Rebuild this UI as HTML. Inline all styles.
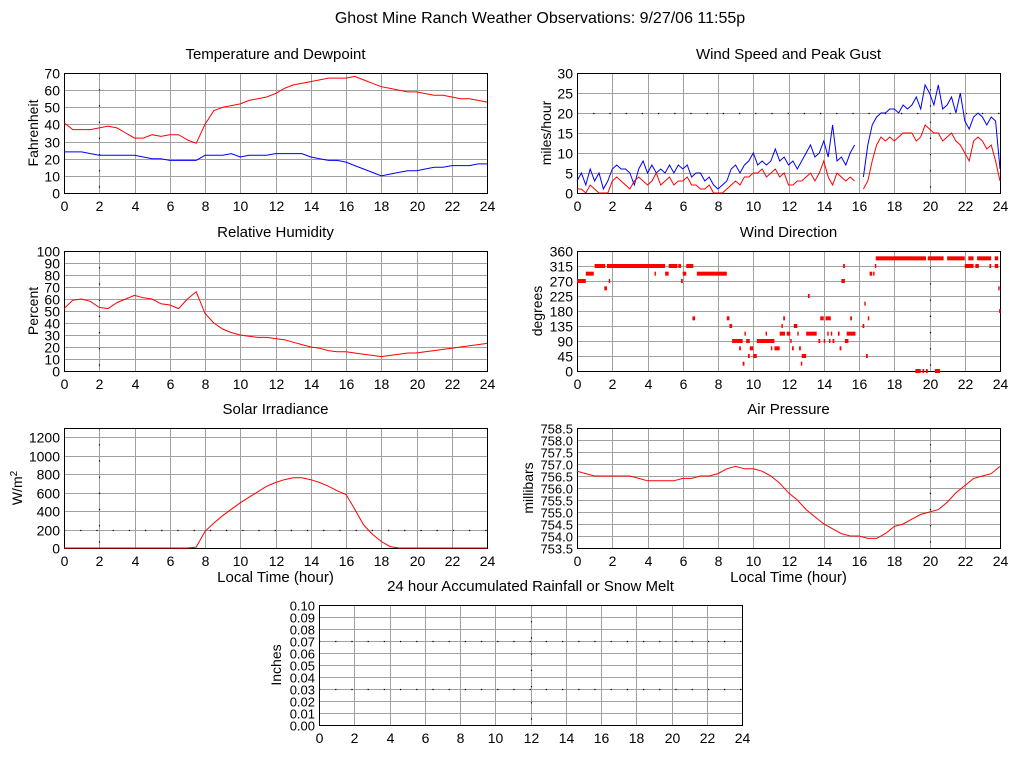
<!DOCTYPE html>
<html><head><meta charset="utf-8"><style>
body{margin:0;background:#fff;}
svg{display:block;font-family:"Liberation Sans",sans-serif;}
</style></head><body>
<svg id="c" width="1024" height="768" viewBox="0 0 1024 768" xmlns="http://www.w3.org/2000/svg">
<text x="540" y="23" font-size="16" text-anchor="middle">Ghost Mine Ranch Weather Observations: 9/27/06 11:55p</text>
</svg>
<script>
const hoursLabels = [0,2,4,6,8,10,12,14,16,18,20,22,24];
const tempF = [41,37,37,37,38,39,38,35,32,32,34,33,34,34,31,29,40,48,50,51,52,54,55,56,58,61,63,64,65,66,67,67,67,68,66,64,62,61,60,59,59,58,57,57,56,55,55,54,53];
const dewF = [24,24,24,23,22,22,22,22,22,21,20,20,19,19,19,19,22,22,22,23,21,22,22,22,23,23,23,23,21,20,19,19,18,16,14,12,10,11,12,13,13,14,15,15,16,16,16,17,17];
const humidity = [52,59,60,58,53,52,57,60,63,61,60,56,55,52,60,66,48,40,35,32,30,29,28,28,27,26,24,22,20,19,17,16,16,15,14,13,12,13,14,15,15,16,17,18,19,20,21,22,23];
const solar = [0,0,0,0,0,0,0,0,0,0,0,0,0,0,0,10,180,270,350,420,490,550,610,670,710,740,760,760,740,710,670,620,580,420,250,150,70,15,0,0,0,0,0,0,0,0,0,0,0];
const pressure = [756.7,756.6,756.5,756.5,756.5,756.5,756.5,756.4,756.3,756.3,756.3,756.3,756.4,756.4,756.5,756.5,756.6,756.8,756.9,756.8,756.8,756.7,756.5,756.2,755.8,755.5,755.1,754.8,754.5,754.3,754.1,754.0,754.0,753.9,753.9,754.1,754.4,754.5,754.7,754.9,755.0,755.1,755.4,755.8,756.1,756.4,756.5,756.6,756.9];
const gust = [3,5,2,6, 3,5,1,3, 6,7,6,6, 5,2,6,8, 5,7,5,6, 5,7,5,7, 6,7,4,5, 5,3,4,2, 1,2,3,6, 7,5,7,8, 10,7,8,7, 8,11,8,9, 7,8,6,8, 10,12,9,10, 13,9,17,8, 9,7,10,12, null,4,12,17, 19,20,20,21, 21,20,22,21, 22,24,21,27, 25,22,27,21, 22,24,20,25, 18,16,19,20, 19,17,19,18, 6];
const speed = [1,1,0,2, 1,0,0,0, 3,4,3,2, 1,3,4,3, 2,3,5,2, 3,4,2,3, 3,4,2,2, 1,1,2,0, 0,0,1,2, 3,2,4,4, 5,5,6,4, 5,6,4,5, 2,2,3,3, 4,5,3,5, 8,4,2,5, 4,3,4,3, null,1,3,8, 12,14,13,14, 13,14,15,15, 15,13,14,17, 16,15,15,13, 14,15,13,12, 10,8,13,14, 13,11,12,8, 3];
const dirStart = [0,0.5,1,1.55,1.7,1.8,4.4,5,5.2,5.75,5.9,6,6.2,6.55,6.8,8.5,8.65,8.8,9.2,9.4,9.5,9.6,9.8,9.7,10,10.2,10.7,11,11.2,11.5,11.6,11.7,11.9,12.1,12.2,12.3,12.5,12.6,12.7,12.75,13.1,13,13.7,13.8,14,14.1,14.2,14.3,14.4,14.5,14.8,14.9,15,15.1,15.2,15.3,15.5,16.2,16.3,16.4,16.5,16.6,16.8,16.9,16.95,19.9,21,22.2,22.7,23.7,22,22.6,23.4,23.7,23.9,23.95,19.2,19.6,19.8,20.3];
const dirEnd =   [0.5,0.95,1.6,1.7,5,1.85,4.45,5.2,5.7,5.9,6,6.2,6.6,6.7,8.5,8.65,8.8,9.4,9.3,9.5,9.55,9.8,10,9.8,10.2,11.2,10.75,11.05,11.5,11.8,11.65,11.8,12.1,12.15,12.3,12.5,12.55,12.7,12.75,13,13.2,13.6,13.8,14,14.05,14.4,14.25,14.35,14.45,14.6,14.9,15,15.2,15.2,15.4,15.8,15.6,16.3,16.35,16.5,16.55,16.75,16.85,16.95,19.8,20.8,22,22.5,23.5,23.9,22.5,22.8,23.5,23.9,23.95,24,19.5,19.7,19.9,20.6];
const dirDeg =   [270,292,315,248,315,270,292,292,315,315,270,292,315,158,292,158,135,90,68,22,112,90,68,45,45,90,112,68,68,112,135,158,112,90,68,135,112,68,22,45,225,112,90,158,90,158,112,90,112,90,112,68,270,315,90,112,158,135,202,45,158,292,292,315,338,338,338,338,338,338,315,315,315,315,248,180,0,0,0,0];
const rainfall = [];

const svg = document.getElementById('c');
const NS = 'http://www.w3.org/2000/svg';
function mk(tag, attrs, parent){const e=document.createElementNS(NS,tag);for(const k in attrs)e.setAttribute(k,attrs[k]);(parent||svg).appendChild(e);return e;}

function gridLine(g,x1,y1,x2,y2,dotted,name){
  const l = mk('line',{x1:x1,x2:x2,y1:y1,y2:y2,stroke:'#a0a0a0','stroke-width':1},g);
  
  
  if(dotted){
    const d = mk('line',{x1:x1,x2:x2,y1:y1,y2:y2,stroke:'#000','stroke-width':1.2,'stroke-dasharray':'1.2,15'},g);
    
    
  }
}

function panel(p){
  const g = mk('g',{});
  
  
  const W=p.x1-p.x0, H=p.y1-p.y0;
  p.sx = h => p.x0 + h/24*W;
  p.sy = v => p.y1 - (v-p.ymin)/(p.ymax-p.ymin)*H;
  p.yticks.forEach(v=>{
    const y=Math.round(p.sy(v))+0.5;
    gridLine(g,p.x0,y,p.x1,y,p.dotY && p.dotY.includes(v),'y-gridline');
    const t = mk('text',{x:p.x0-4,y:y+5,'font-size':p.yfs||14,'text-anchor':'end'},g);
    
    
    t.textContent = p.fmt?p.fmt(v):v;
  });
  hoursLabels.forEach(h=>{
    const x=Math.round(p.sx(h))+0.5;
    gridLine(g,x,p.y0,x,p.y1,h===p.dotX,'x-gridline');
    const t = mk('text',{x:x,y:p.y1+18,'font-size':14,'text-anchor':'middle'},g);
    
    
    t.textContent = h;
  });
  const fr = mk('rect',{x:p.x0+0.5,y:p.y0+0.5,width:W,height:H,fill:'none',stroke:'#000','stroke-width':1},g);
  
  
  const ti = mk('text',{x:(p.x0+p.x1)/2,y:p.y0-14,'font-size':15,'text-anchor':'middle'},g);
  
  
  ti.textContent = p.title;
  const yl = mk('text',{x:0,y:0,'font-size':14,'text-anchor':'middle',transform:`translate(${p.ylx},${(p.y0+p.y1)/2}) rotate(-90)`},g);
  
  
  if(p.ylabelHTML){yl.innerHTML=p.ylabelHTML;}else yl.textContent = p.ylabel;
  if(p.xlabel){
    const xl = mk('text',{x:(p.x0+p.x1)/2,y:p.y1+34,'font-size':15,'text-anchor':'middle'},g);
    
    
    xl.textContent = p.xlabel;
  }
  p.g = g;
  return p;
}
function series(p, arr, color, name){
  const step = 24/(arr.length-1);
  let d='', pen=false;
  arr.forEach((v,i)=>{
    if(v===null){pen=false;return;}
    d += (pen?'L':'M') + p.sx(i*step).toFixed(1) + ',' + p.sy(v).toFixed(1) + ' ';
    pen=true;
  });
  const path = mk('path',{d:d,fill:'none',stroke:color,'stroke-width':1},p.g);
  
  
}

const range=(a,b,s)=>{const r=[];for(let v=a;v<=b+1e-9;v+=s)r.push(+v.toFixed(2));return r;};

const t = panel({name:'temperature-panel',title:'Temperature and Dewpoint',x0:64,x1:487,y0:73,y1:193,ymin:0,ymax:70,yticks:range(0,70,10),ylabel:'Fahrenheit',ylx:38,dotX:2});
series(t,tempF,'#f00','temperature-line');
series(t,dewF,'#00f','dewpoint-line');

const w = panel({name:'wind-speed-panel',title:'Wind Speed and Peak Gust',x0:577,x1:1000,y0:73,y1:193,ymin:0,ymax:30,yticks:range(0,30,5),ylabel:'miles/hour',ylx:551,dotX:20,dotY:[20]});
series(w,gust,'#00f','peak-gust-line');
series(w,speed,'#f00','wind-speed-line');

const hu = panel({name:'humidity-panel',title:'Relative Humidity',x0:64,x1:487,y0:251,y1:371,ymin:0,ymax:100,yticks:range(0,100,10),ylabel:'Percent',ylx:38,dotX:2});
series(hu,humidity,'#f00','humidity-line');

const wd = panel({name:'wind-direction-panel',title:'Wind Direction',x0:577,x1:1000,y0:251,y1:371,ymin:0,ymax:360,yticks:range(0,360,45),ylabel:'degrees',ylx:542,dotX:20});
dirStart.forEach((s,i)=>{
  const e=Math.max(dirEnd[i],s+0.08);
  const r = mk('rect',{x:wd.sx(s),y:wd.sy(dirDeg[i])-2,width:wd.sx(e)-wd.sx(s),height:4,fill:'#f00'},wd.g);
  
  
});

const so = panel({name:'solar-panel',title:'Solar Irradiance',x0:64,x1:487,y0:428,y1:548,ymin:0,ymax:1300,yticks:range(0,1200,200),ylabelHTML:'W/m<tspan dy="-5" font-size="10">2</tspan>',ylx:22,dotX:2,dotY:[200],xlabel:'Local Time (hour)'});
series(so,solar,'#f00','solar-line');

const pr = panel({name:'pressure-panel',title:'Air Pressure',x0:577,x1:1000,y0:428,y1:548,ymin:753.5,ymax:758.5,yticks:range(753.5,758.5,0.5),ylabel:'millibars',ylx:533,dotX:20,fmt:v=>v.toFixed(1),yfs:13,xlabel:'Local Time (hour)'});
series(pr,pressure,'#f00','pressure-line');

const rn = panel({name:'rainfall-panel',title:'24 hour Accumulated Rainfall or Snow Melt',x0:319,x1:742,y0:605,y1:725,ymin:0,ymax:0.1,yticks:range(0,0.1,0.01),ylabel:'Inches',ylx:281,dotX:12,dotY:[0.03,0.07],fmt:v=>v.toFixed(2),yfs:13});
if(rainfall.length) series(rn,rainfall,'#f00','rainfall-line');
</script>
</body></html>
